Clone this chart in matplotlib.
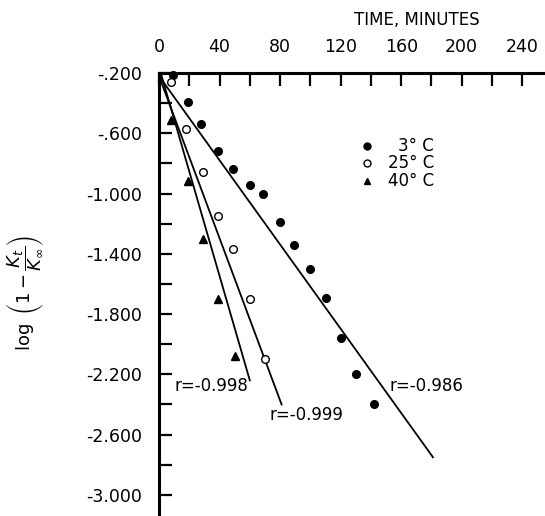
import matplotlib
matplotlib.use("Agg")
import matplotlib.pyplot as plt
from matplotlib.ticker import FixedLocator, FixedFormatter

# ---- data ----
t_3c = [9, 19, 28, 39, 49, 60, 69, 80, 89, 100, 110, 120, 130, 142]
y_3c = [-0.21, -0.39, -0.54, -0.72, -0.84, -0.94, -1.00, -1.19, -1.34, -1.50, -1.69, -1.96, -2.20, -2.40]
t_25c = [8, 18, 29, 39, 49, 60, 70]
y_25c = [-0.26, -0.57, -0.86, -1.15, -1.37, -1.70, -2.10]
t_40c = [8, 19, 29, 39, 50]
y_40c = [-0.51, -0.92, -1.30, -1.70, -2.08]

# regression lines (start/end points)
fit_t_3c = [0, 181]
fit_y_3c = [-0.22, -2.75]
fit_t_25c = [0, 81]
fit_y_25c = [-0.22, -2.40]
fit_t_40c = [0, 60]
fit_y_40c = [-0.16, -2.24]

r_labels = ["r=-0.998", "r=-0.999", "r=-0.986"]
r_label_t = [10, 73, 152]
r_label_y = [-2.28, -2.47, -2.28]

legend_labels = ["3\u00b0 C", "25\u00b0 C", "40\u00b0 C"]

x_major = [0, 40, 80, 120, 160, 200, 240]
x_minor = [20, 60, 100, 140, 180, 220]
y_major = [-0.2, -0.6, -1.0, -1.4, -1.8, -2.2, -2.6, -3.0]
y_major_labels = ["-.200", "-.600", "-1.000", "-1.400", "-1.800", "-2.200", "-2.600", "-3.000"]
y_minor = [-0.4, -0.8, -1.2, -1.6, -2.0, -2.4, -2.8]

plt.rcParams['font.family'] = ['DejaVu Sans']
fig = plt.figure(figsize=(5.45, 5.16), dpi=100)
ax = fig.add_axes([159/545, 0.0, (545-159)/545, (516-73)/516])

ax.set_xlim(0, 255)
ax.set_ylim(-3.14, -0.2)

lw = 1.3
ax.plot(fit_t_3c, fit_y_3c, color='black', lw=lw)
ax.plot(fit_t_25c, fit_y_25c, color='black', lw=lw)
ax.plot(fit_t_40c, fit_y_40c, color='black', lw=lw)

ms = 5.5
ax.plot(t_3c, y_3c, 'o', color='black', ms=ms, clip_on=False)
ax.plot(t_25c, y_25c, 'o', mfc='white', mec='black', mew=1.0, ms=ms, clip_on=False)
ax.plot(t_40c, y_40c, '^', color='black', ms=ms, clip_on=False)

for s, tx, ty in zip(r_labels, r_label_t, r_label_y):
    ax.text(tx, ty, s, fontsize=12, ha='left', va='center')

# legend (manual)
leg_y = [0.835, 0.797, 0.757]
styles = [dict(marker='o', color='black'),
          dict(marker='o', mfc='white', mec='black', mew=1.0),
          dict(marker='^', color='black')]
for lab, yy, st in zip(legend_labels, leg_y, styles):
    ax.plot([0.538], [yy], transform=ax.transAxes, ms=5, linestyle='none', **st)
    ax.text(0.713, yy, lab, transform=ax.transAxes, fontsize=12, ha='right', va='center')

# axes styling
ax.xaxis.tick_top()
ax.xaxis.set_label_position('top')
for side in ['right', 'bottom']:
    ax.spines[side].set_visible(False)
ax.spines['left'].set_linewidth(2.2)
ax.spines['top'].set_linewidth(2.2)

ax.xaxis.set_major_locator(FixedLocator(x_major))
ax.xaxis.set_minor_locator(FixedLocator(x_minor))
ax.yaxis.set_major_locator(FixedLocator(y_major))
ax.yaxis.set_major_formatter(FixedFormatter(y_major_labels))
ax.yaxis.set_minor_locator(FixedLocator(y_minor))

ax.tick_params(axis='both', which='both', direction='in', length=9, width=1.6, labelsize=12.5)
ax.tick_params(axis='x', which='both', top=True, bottom=False, pad=12)
ax.tick_params(axis='y', which='both', left=True, right=False, pad=12)

ax.set_xlabel('TIME, MINUTES', fontsize=12)
ax.xaxis.set_label_coords(0.668, 1.108)
ax.set_ylabel(r'$\log\ \left(1-\dfrac{K_t}{K_\infty}\right)$', fontsize=13)
ax.yaxis.set_label_coords(-0.29, 0.503)

fig.savefig('out.png', dpi=100)
